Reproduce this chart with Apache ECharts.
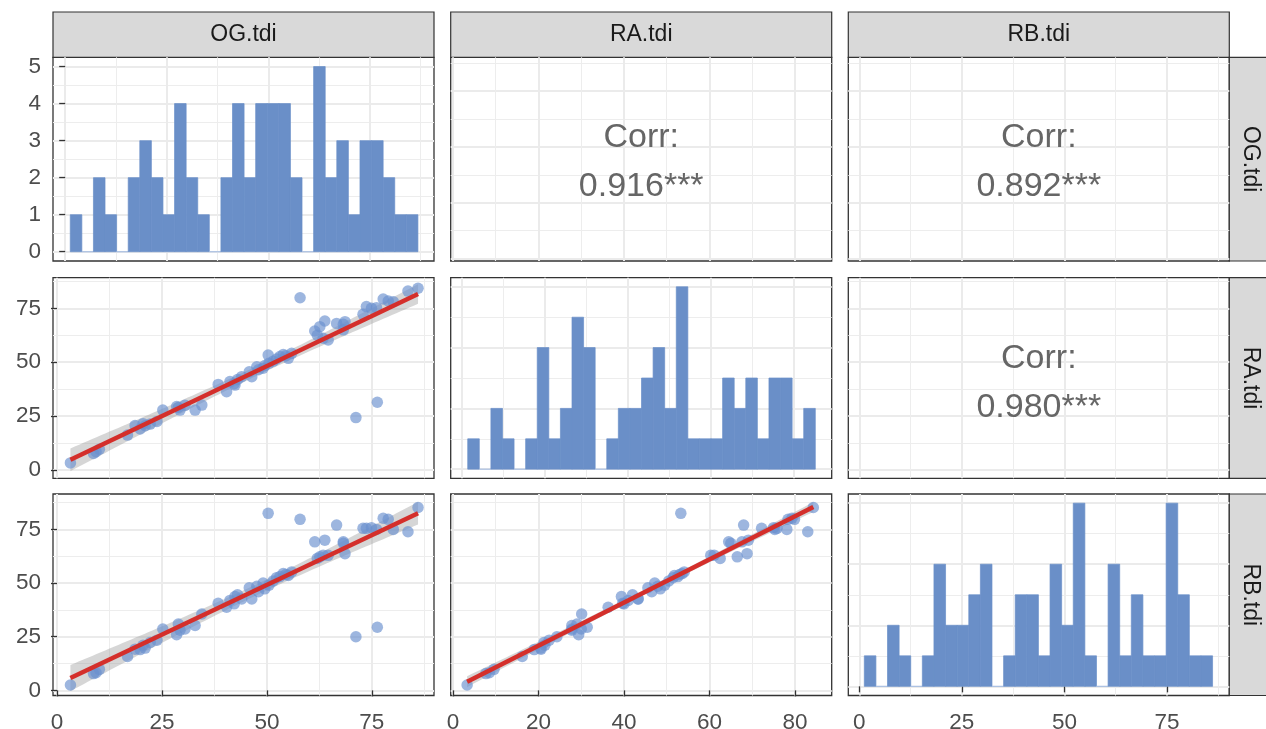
<!DOCTYPE html>
<html><head><meta charset="utf-8">
<script src="https://cdn.jsdelivr.net/npm/echarts@6/dist/echarts.min.js"></script>
<style>html,body{margin:0;padding:0;background:#fff;}#c{width:1266px;height:729px;}</style>
</head><body><div id="c"></div>
<script>
// ---------------- data ----------------
const variables = ['OG.tdi', 'RA.tdi', 'RB.tdi'];
const og = [3.2, 8.7, 9.3, 10.1, 16.8, 18.6, 19.8, 20.5, 21.0, 22.2, 23.8, 25.2, 28.5, 28.9, 29.3, 30.5, 32.9, 34.5, 38.4, 40.4, 41.2, 42.2, 42.4, 43.0, 44.0, 45.8, 46.4, 47.6, 48.0, 49.1, 49.5, 50.3, 50.5, 51.5, 52.3, 53.1, 53.9, 54.5, 55.1, 55.9, 57.9, 61.4, 62.0, 62.6, 63.4, 63.8, 64.6, 66.6, 68.2, 68.2, 68.6, 71.2, 72.9, 73.7, 74.9, 76.1, 76.3, 77.7, 78.9, 80.1, 83.6, 86.0];
const ra = [3.3, 7.7, 8.5, 9.6, 16.2, 20.6, 19.0, 21.5, 20.5, 21.3, 22.5, 27.8, 29.4, 29.0, 27.8, 30.0, 27.8, 30.1, 39.7, 36.3, 41.0, 40.0, 39.4, 42.0, 43.3, 45.6, 43.3, 47.9, 46.5, 47.2, 48.5, 53.3, 49.5, 50.5, 51.5, 52.6, 53.6, 53.0, 51.8, 54.1, 79.9, 64.5, 62.5, 66.5, 61.1, 69.1, 60.3, 68.0, 67.6, 65.0, 68.8, 24.3, 72.2, 75.8, 75.0, 75.3, 31.4, 79.3, 78.4, 78.1, 83.0, 84.3];
const rb = [2.5, 7.8, 8.2, 9.8, 15.8, 19.2, 19.0, 21.0, 19.7, 22.3, 23.4, 28.6, 25.9, 30.9, 28.0, 28.6, 30.2, 35.6, 40.6, 38.7, 41.9, 40.3, 43.7, 44.5, 42.6, 47.8, 42.6, 48.5, 46.0, 50.0, 47.3, 82.5, 49.0, 51.0, 52.5, 53.0, 54.4, 54.0, 53.5, 55.2, 79.7, 69.2, 61.5, 62.2, 63.0, 70.0, 62.9, 77.0, 69.2, 68.5, 63.7, 25.0, 75.5, 75.5, 75.8, 75.0, 29.4, 80.2, 79.7, 75.0, 73.9, 85.2];

const histOG = [1,0,2,1,0,2,3,2,1,4,2,1,0,2,4,2,4,4,4,2,0,5,2,3,1,3,3,2,1,1];
const histRA = [1,0,2,1,0,1,4,1,2,5,4,0,1,2,2,3,4,2,6,1,1,1,3,2,3,1,3,3,1,2];
const histRB = [1,0,2,1,0,1,4,2,2,3,4,0,1,3,3,1,4,2,6,1,0,4,1,3,1,1,6,3,1,1];
const histStart = [1.25, 1.45, 1.22];
const histBinWidth = [2.853, 2.79, 2.83];

const corrTitle = 'Corr:';
const corrValues = [['', '0.916***', '0.892***'], ['', '', '0.980***'], ['', '', '']];

const xMajorTicks = [[0, 25, 50, 75], [0, 20, 40, 60, 80], [0, 25, 50, 75]];
const xMinorTicks = [[12.5, 37.5, 62.5, 87.5], [10, 30, 50, 70], [12.5, 37.5, 62.5, 87.5]];
const valueMajorTicks = [0, 25, 50, 75];
const valueMinorTicks = [12.5, 37.5, 62.5, 87.5];
const countMajorTicks = [[0, 1, 2, 3, 4, 5], [0, 2, 4, 6], [0, 2, 4, 6]];
const countMinorTicks = [[0.5, 1.5, 2.5, 3.5, 4.5], [1, 3, 5], [1, 3, 5]];

// ---------------- layout ----------------
const colLeft = [53, 450.7, 848.3], colW = 381;
const rowTop = [57.3, 277.7, 494], rowBottom = [261, 478.3, 695.5];
const scatX = [[-0.95, 89.8], [-0.54, 88.6], [-2.68, 90.2]];
const histX = [[-3.0, 90.8], [-2.65, 89.1], [-2.68, 90.2]];
const scatY = [[-1.15, 90.15], [-3.85, 89.2], [-2.4, 91.5]];
const histY = [[-0.25, 5.25], [-0.3, 6.3], [-0.3, 6.3]];

const FONT = '"Liberation Sans", Arial, sans-serif';
const cols = [og, ra, rb];
const hists = [histOG, histRA, histRB];
const BAR = '#6A8FC8';

const grids = [], xAxes = [], yAxes = [], series = [], graphics = [];

function axisPair(dim, g, range, majors, minors, showLabels) {
  const major = {
    type: 'value', gridIndex: g, min: range[0], max: range[1],
    position: dim === 'x' ? 'bottom' : 'left',
    axisLine: { show: false },
    axisTick: { show: showLabels, customValues: majors, length: 6, inside: false, lineStyle: { color: '#333333', width: 1.3 } },
    axisLabel: { show: showLabels, customValues: majors, color: '#4D4D4D', fontSize: 22.5, fontFamily: FONT, margin: dim === 'x' ? 16 : 12 },
    splitLine: { show: true, lineStyle: { color: '#EBEBEB', width: 2 } },
    minorTick: { show: false }, minorSplitLine: { show: false }
  };
  const minor = {
    type: 'value', gridIndex: g, min: range[0], max: range[1],
    position: dim === 'x' ? 'top' : 'right',
    axisLine: { show: false },
    axisTick: { show: false, customValues: minors },
    axisLabel: { show: false },
    splitLine: { show: true, lineStyle: { color: '#EDEDED', width: 1.1 } }
  };
  return [major, minor];
}

function linFit(xs, ys) {
  const n = xs.length;
  let mx = 0, my = 0;
  for (let i = 0; i < n; i++) { mx += xs[i]; my += ys[i]; }
  mx /= n; my /= n;
  let sxx = 0, sxy = 0;
  for (let i = 0; i < n; i++) { sxx += (xs[i] - mx) ** 2; sxy += (xs[i] - mx) * (ys[i] - my); }
  const b = sxy / sxx, a = my - b * mx;
  let sse = 0;
  for (let i = 0; i < n; i++) sse += (ys[i] - a - b * xs[i]) ** 2;
  const s = Math.sqrt(sse / (n - 2));
  const t = 2.0003; // t(0.975, df = 60)
  const x0 = Math.min(...xs), x1 = Math.max(...xs);
  const band = [];
  const steps = 80;
  for (let k = 0; k <= steps; k++) {
    const x = x0 + (x1 - x0) * k / steps;
    const f = a + b * x;
    const se = s * Math.sqrt(1 / n + (x - mx) ** 2 / sxx);
    band.push([x, f - t * se, f + t * se]);
  }
  return { line: [[x0, a + b * x0], [x1, a + b * x1]], band };
}

for (let r = 0; r < 3; r++) {
  for (let c = 0; c < 3; c++) {
    const g = r * 3 + c;
    const isHist = r === c;
    grids.push({
      left: colLeft[c], top: rowTop[r], width: colW, height: rowBottom[r] - rowTop[r],
      show: true, borderColor: '#333333', borderWidth: 1.3, backgroundColor: '#ffffff',
      containLabel: false, outerBoundsMode: 'none'
    });
    const xr = isHist ? histX[c] : scatX[c];
    const yr = isHist ? histY[r] : scatY[r];
    const yMaj = isHist ? countMajorTicks[r] : valueMajorTicks;
    const yMin = isHist ? countMinorTicks[r] : valueMinorTicks;
    const xs = axisPair('x', g, xr, xMajorTicks[c], xMinorTicks[c], r === 2);
    const ys = axisPair('y', g, yr, yMaj, yMin, c === 0);
    const xi = xAxes.length, yi = yAxes.length;
    xAxes.push(xs[0], xs[1]);
    yAxes.push(ys[0], ys[1]);

    if (isHist) {
      const h = hists[c], st = histStart[c], w = histBinWidth[c];
      series.push({
        type: 'custom', xAxisIndex: xi, yAxisIndex: yi, silent: true,
        data: h.map((n, i) => [st + i * w, st + (i + 1) * w, n]),
        encode: { x: [0, 1], y: 2 },
        renderItem: function (params, api) {
          const x0 = api.value(0), x1 = api.value(1), n = api.value(2);
          const p0 = api.coord([x0, n]), p1 = api.coord([x1, 0]);
          if (n === 0) {
            return { type: 'rect', shape: { x: p0[0], y: p1[1] - 0.6, width: p1[0] - p0[0], height: 1.2 }, style: { fill: '#A9BFE2' } };
          }
          return { type: 'rect', shape: { x: p0[0], y: p0[1], width: p1[0] - p0[0], height: p1[1] - p0[1] }, style: { fill: BAR, stroke: BAR, lineWidth: 0.7 } };
        }
      });
    } else if (r > c) {
      const xsData = cols[c], ysData = cols[r];
      const fit = linFit(xsData, ysData);
      series.push({
        type: 'scatter', xAxisIndex: xi, yAxisIndex: yi, silent: true,
        symbol: 'circle', symbolSize: 11.5,
        itemStyle: { color: 'rgba(106,143,206,0.82)' },
        data: xsData.map((v, i) => [v, ysData[i]])
      });
      series.push({
        type: 'custom', xAxisIndex: xi, yAxisIndex: yi, silent: true,
        data: [[fit.band[0][0], fit.band[0][1]]],
        renderItem: (function (band) {
          return function (params, api) {
            const pts = [];
            for (const p of band) pts.push(api.coord([p[0], p[2]]));
            for (let k = band.length - 1; k >= 0; k--) pts.push(api.coord([band[k][0], band[k][1]]));
            return { type: 'polygon', shape: { points: pts }, style: { fill: 'rgba(153,153,153,0.4)' } };
          };
        })(fit.band)
      });
      series.push({
        type: 'line', xAxisIndex: xi, yAxisIndex: yi, silent: true,
        symbol: 'none', data: fit.line,
        lineStyle: { color: '#D42F2B', width: 4.5 }
      });
    } else {
      const cx = colLeft[c] + colW / 2;
      graphics.push({ type: 'text', x: cx, y: rowTop[r] + 80.5, z: 10, style: { text: corrTitle, fill: '#666666', font: '34px ' + FONT, align: 'center', verticalAlign: 'middle' } });
      graphics.push({ type: 'text', x: cx, y: rowTop[r] + 129.5, z: 10, style: { text: corrValues[r][c], fill: '#666666', font: '34px ' + FONT, align: 'center', verticalAlign: 'middle' } });
    }
  }
}

// strips
for (let c = 0; c < 3; c++) {
  graphics.push({ type: 'rect', shape: { x: colLeft[c], y: 12, width: colW, height: 45.3 }, style: { fill: '#D9D9D9', stroke: '#333333', lineWidth: 1.2 } });
  graphics.push({ type: 'text', x: colLeft[c] + colW / 2, y: 35, style: { text: variables[c], fill: '#1A1A1A', font: '23px ' + FONT, align: 'center', verticalAlign: 'middle' } });
}
for (let r = 0; r < 3; r++) {
  graphics.push({ type: 'rect', shape: { x: colLeft[2] + colW, y: rowTop[r], width: 46, height: rowBottom[r] - rowTop[r] }, style: { fill: '#D9D9D9', stroke: '#333333', lineWidth: 1.2 } });
  graphics.push({ type: 'text', x: colLeft[2] + colW + 21.5, y: (rowTop[r] + rowBottom[r]) / 2, rotation: -Math.PI / 2, style: { text: variables[r], fill: '#1A1A1A', font: '23px ' + FONT, align: 'center', verticalAlign: 'middle' } });
}

const chart = echarts.init(document.getElementById('c'), null, { renderer: 'canvas' });
chart.setOption({
  animation: false,
  backgroundColor: '#ffffff',
  grid: grids, xAxis: xAxes, yAxis: yAxes, series: series,
  graphic: { elements: graphics }
});
</script></body></html>
